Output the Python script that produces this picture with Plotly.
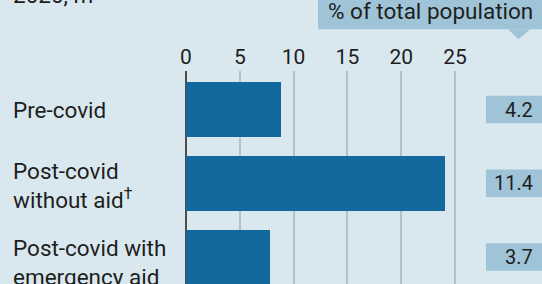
import plotly.graph_objects as go

categories = ["Pre-covid", "Post-covid<br>without aid<sup>†</sup>", "Post-covid with<br>emergency aid"]
people_m = [8.8, 24.1, 7.8]
pct_total = ["4.2", "11.4", "3.7"]
tick_vals = [0, 5, 10, 15, 20, 25]

W, H = 542, 284
ML, MT = 180, 71
PW, PH = W - ML, H - MT
FONT = "Roboto, sans-serif"
TXT = "#1e1e1e"
BG = "#d9e8ef"
BAR = "#13699e"
BOX = "#9fc4d7"

px_per_unit = 10.76
x0 = -6 / px_per_unit
xr = [x0, x0 + PW / px_per_unit]
pitch = 73.75
yr = [(H - 109.5) / pitch, -(109.5 - MT) / pitch]

def px_x(p):
    return (p - ML) / PW

def px_y(p):
    return (H - p) / PH

fig = go.Figure(go.Bar(
    x=people_m, y=list(range(len(categories))), orientation="h",
    marker=dict(color=BAR, line=dict(width=0)), width=0.74,
    hoverinfo="skip",
))

annotations = []
shapes = []
yshifts = [0, -2, -5]
for i, c in enumerate(categories):
    annotations.append(dict(
        x=px_x(11), xref="paper", y=i, yref="y", text=c, showarrow=False,
        xanchor="left", yanchor="middle", align="left", yshift=yshifts[i],
        font=dict(family=FONT, size=22.5, color=TXT),
    ))
    shapes.append(dict(
        type="rect", xref="paper", yref="y", x0=px_x(486), x1=px_x(542),
        y0=i - 13.7 / pitch, y1=i + 13.7 / pitch, fillcolor=BOX, line=dict(width=0),
        layer="below",
    ))
    annotations.append(dict(
        x=px_x(535), xref="paper", y=i, yref="y", text=pct_total[i], showarrow=False,
        xanchor="right", yanchor="middle",
        font=dict(family=FONT, size=20, color=TXT),
    ))

# header box
shapes.append(dict(type="rect", xref="paper", yref="paper",
                   x0=px_x(318), x1=px_x(545), y0=px_y(29.3), y1=px_y(-5),
                   fillcolor=BOX, line=dict(width=0)))
tx = [px_x(508), px_x(530), px_x(518.5)]
ty = [px_y(29.3), px_y(29.3), px_y(39.3)]
shapes.append(dict(type="path", xref="paper", yref="paper",
                   path=f"M{tx[0]},{ty[0]} L{tx[1]},{ty[1]} L{tx[2]},{ty[2]} Z",
                   fillcolor=BOX, line=dict(width=0)))
annotations.append(dict(
    x=px_x(326), xref="paper", y=px_y(26), yref="paper", text="% of total population",
    showarrow=False, xanchor="left", yanchor="bottom",
    font=dict(family=FONT, size=22.5, color=TXT),
))
annotations.append(dict(
    x=px_x(11), xref="paper", y=px_y(10), yref="paper", text="2020, m",
    showarrow=False, xanchor="left", yanchor="bottom",
    font=dict(family=FONT, size=22.5, color=TXT),
))

fig.update_layout(
    width=W, height=H,
    margin=dict(l=ML, r=0, t=MT, b=0, pad=0),
    paper_bgcolor=BG, plot_bgcolor=BG,
    showlegend=False,
    bargap=0,
    xaxis=dict(
        range=xr, side="top", tickvals=tick_vals, ticktext=[str(v) for v in tick_vals],
        showgrid=True, gridcolor="#b6c1c6", gridwidth=1.5,
        zeroline=True, zerolinecolor="#4d4d4d", zerolinewidth=2,
        showline=False, ticks="", ticklabelstandoff=2,
        tickfont=dict(family=FONT, size=21, color=TXT),
        fixedrange=True,
    ),
    yaxis=dict(range=yr, showgrid=False, zeroline=False, showticklabels=False,
               showline=False, ticks="", fixedrange=True),
    annotations=annotations,
    shapes=shapes,
)

fig.write_html(
    "out.html",
    config={"displayModeBar": False},
    post_script="document.body.style.margin='0';document.body.style.overflow='hidden';",
)
